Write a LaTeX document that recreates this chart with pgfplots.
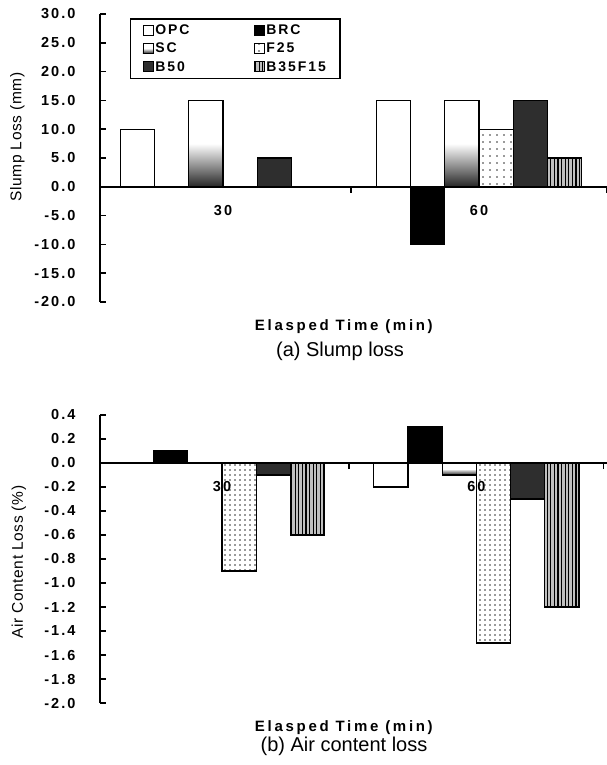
\documentclass[border=0pt]{standalone}
\usepackage{fontspec}
\setmainfont{Liberation Sans}
\newfontfamily\spc[LetterSpace=14]{Liberation Sans}
\newfontfamily\spcl[LetterSpace=4]{Liberation Sans}
\newfontfamily\spcx[LetterSpace=18]{Liberation Sans}
\usepackage{pgfplots}
\pgfplotsset{compat=1.18}
\usetikzlibrary{patterns.meta}

\pgfplotsset{
  common/.style={
    scale only axis, width=507pt, height=288pt,
    axis on top,
    axis x line=middle, axis y line=left,
    axis line style={-, line width=1.8pt},
    hide obscured x ticks=false, hide obscured y ticks=false,
    xtick={1,2}, xticklabels={30,60},
    minor xtick={1.5,2.5},
    major x tick style={draw=none},
    minor x tick style={line width=1.5pt, black},
    minor tick length=6pt, major tick length=6pt,
    tick align=inside,
    ytick style={line width=1.5pt, black},
    tick label style={font=\spc\bfseries\fontsize{14.5}{14}\selectfont},
    /pgf/number format/assume math mode=true,
    yticklabel style={/pgf/number format/fixed, /pgf/number format/fixed zerofill, /pgf/number format/precision=1, xshift=-21pt},
    xticklabel style={yshift=-9pt},
    ybar=0pt, bar width=34.2pt,
    clip=false,
    xlabel={Elasped Time (min)},
    xlabel style={font=\spcx\bfseries\fontsize{15}{18}\selectfont, at={(axis description cs:0.481,0)}, anchor=north, yshift=-14pt},
    ylabel style={font=\spcl\fontsize{15.5}{18}\selectfont, anchor=center, rotate=0},
  },
  sq/.style={legend image code/.code={\draw[##1, line width=0.8pt] (0pt,-4.5pt) rectangle (10pt,5.5pt);}},
  sOPC/.style={draw=black, fill=white, line width=1.2pt, sq},
  sBRC/.style={draw=black, fill=black, line width=1.2pt, sq},
  sSC/.style={draw=black, line width=1.2pt, top color=white, bottom color=black!85, middle color=white, sq},
  sF25/.style={draw=black, fill=white, line width=1.2pt, postaction={pattern color=black!80, pattern={Dots[distance=#1, radius=0.8pt]}}, sq},
  sB50/.style={draw=black, fill=black!82, line width=1.2pt, sq},
  sB35/.style={draw=black, fill=black!25, line width=1.2pt, postaction={pattern color=black, pattern={Lines[angle=90, distance=3.6pt, line width=1.3pt]}}, sq},
}

\begin{document}
\begin{tikzpicture}
\useasboundingbox (0,0) rectangle (607pt,-765pt);

\begin{axis}[common,
  at={(100pt,-302pt)}, anchor=south west,
  xmin=0.5195, xmax=2.5,
  ymin=-20, ymax=30, ytick={-20,-15,...,30},
  ylabel={Slump Loss (mm)},
  ylabel style={at={(axis description cs:-0.163,0.573)}},
  legend columns=2,
  legend cell align=left,
  legend style={at={(axis description cs:0.059,0.985)}, anchor=north west,
    draw=black, line width=1.2pt, font=\spc\bfseries\fontsize{14}{15}\selectfont,
    inner xsep=12pt, inner ysep=4pt, row sep=3pt,
    /tikz/every even column/.append style={column sep=62pt}},
]
\addplot[sOPC] coordinates {(1,10) (2,15)};
\addplot[sBRC] coordinates {(2,-10)};
\addplot[sSC] coordinates {(1,15) (2,15)};
\addplot[sF25=7pt] coordinates {(2,10)};
\addplot[sB50] coordinates {(1,5) (2,15)};
\addplot[sB35] coordinates {(2,5)};
\legend{OPC,BRC,SC,F25,B50,B35F15}
\end{axis}
\node[font=\fontsize{20}{24}\selectfont] at (340pt,-351pt) {(a) Slump loss};

\begin{axis}[common,
  at={(100pt,-703pt)}, anchor=south west,
  xmin=0.5206, xmax=2.513,
  ymin=-2, ymax=0.4, ytick={-2,-1.8,...,0.41},
  ylabel={Air Content Loss (\%)},
  ylabel style={at={(axis description cs:-0.16,0.489)}},
]
\addplot[sOPC] coordinates {(2,-0.2)};
\addplot[sBRC] coordinates {(1,0.1) (2,0.3)};
\addplot[sSC] coordinates {(2,-0.1)};
\addplot[sF25=5pt] coordinates {(1,-0.9) (2,-1.5)};
\addplot[sB50] coordinates {(1,-0.1) (2,-0.3)};
\addplot[sB35] coordinates {(1,-0.6) (2,-1.2)};
\end{axis}
\node[font=\fontsize{20}{24}\selectfont] at (344pt,-746pt) {(b) Air content loss};
\end{tikzpicture}
\end{document}
